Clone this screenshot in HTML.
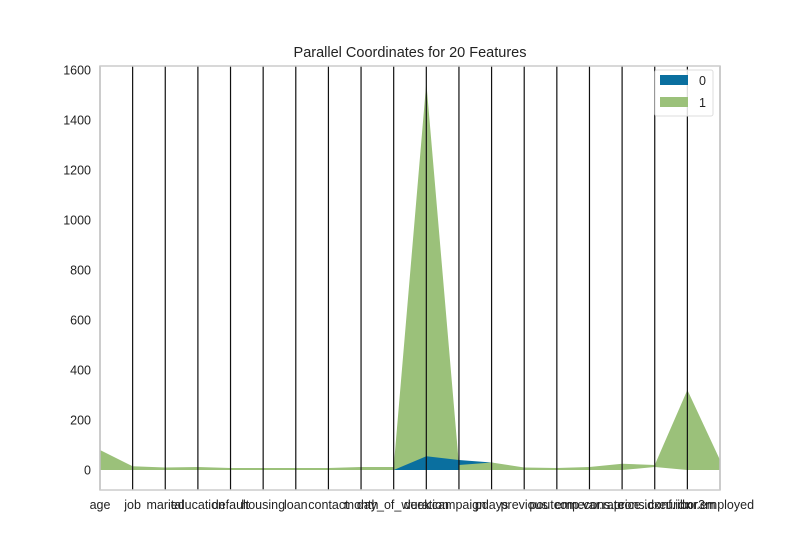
<!DOCTYPE html>
<html><head><meta charset="utf-8"><style>
body{margin:0;background:#fff;font-family:"Liberation Sans","DejaVu Sans",sans-serif}
</style></head><body>
<svg id="chart" width="800" height="550" xmlns="http://www.w3.org/2000/svg" font-family="Liberation Sans, DejaVu Sans, sans-serif">
<defs><clipPath id="durclip"><rect x="394" y="0" width="65" height="550"/></clipPath></defs>
<rect width="800" height="550" fill="#fff"/>
<text x="410" y="57" text-anchor="middle" font-size="14.5" fill="#222">Parallel Coordinates for 20 Features</text>
<g id="plot"></g>
</svg>
<script>
const features=["age","job","marital","education","default","housing","loan","contact","month","day_of_week","duration","campaign","pdays","previous","poutcome","emp.var.rate","cons.price.idx","cons.conf.idx","euribor3m","nr.employed"];
const class1Upper=[80,15,10,12,8,8,8,8,12,12,1550,20,30,10,8,12,25,20,320,40];
const class1Lower=[0,0,0,0,0,0,0,0,0,0,0,0,0,0,0,0,0,12,0,0];
const class0Upper=[0,2,0,0,0,0,0,0,0,0,55,40,30,0,0,0,0,0,0,0];
const class0Lower=[0,0,0,0,0,0,0,0,0,0,0,0,25,0,0,0,0,0,0,0];
const yTicks=[0,200,400,600,800,1000,1200,1400,1600];
const L=100,R=720,T=66,B=490;
const xs=i=>L+i*(R-L)/(features.length-1);
const ys=v=>470-v*0.25;
const NS="http://www.w3.org/2000/svg";
const g=document.getElementById('plot');
function mk(t,a){const e=document.createElementNS(NS,t);for(const k in a)e.setAttribute(k,a[k]);g.appendChild(e);return e;}
function band(up,lo,color,name,clip){
  let pts=up.map((v,i)=>xs(i)+","+ys(v));
  for(let i=lo.length-1;i>=0;i--)pts.push(xs(i)+","+ys(lo[i]));
  const p=mk('polygon',{points:pts.join(' '),fill:color});
  if(clip)p.setAttribute('clip-path','url(#durclip)');
  
  
}
band(class0Upper,class0Lower,'#0a6f9f','class-0-band');
band(class1Upper,class1Lower,'#9bc17a','class-1-band');
band(class0Upper,class0Lower,'#0a6f9f','class-0-band-overlay',true);
features.forEach((f,i)=>{
  const l=mk('line',{x1:xs(i),x2:xs(i),y1:T,y2:B,stroke:'#111','stroke-width':1.2});
  
  
  const t=mk('text',{x:xs(i),y:509,'text-anchor':'middle','font-size':12.5,fill:'#222'});
  t.textContent=f;
  
  
});
yTicks.forEach(v=>{
  const t=mk('text',{x:91,y:ys(v)+4.5,'text-anchor':'end','font-size':12.5,fill:'#222'});
  t.textContent=v;
  
  
});
const fr=mk('rect',{x:L,y:T,width:R-L,height:B-T,fill:'none',stroke:'#ccc','stroke-width':1.5});


const lg=mk('rect',{x:655,y:70,width:58,height:46,fill:'#fff','fill-opacity':0.85,stroke:'#ddd',rx:2});


[['0','#0a6f9f',75],['1','#9bc17a',97]].forEach(([lab,c,y])=>{
  const r=mk('rect',{x:660,y:y,width:28,height:10,fill:c});
  
  
  const t=mk('text',{x:699,y:y+10,'font-size':12.5,fill:'#222'});
  t.textContent=lab;
  
  
});
</script>
</body></html>
